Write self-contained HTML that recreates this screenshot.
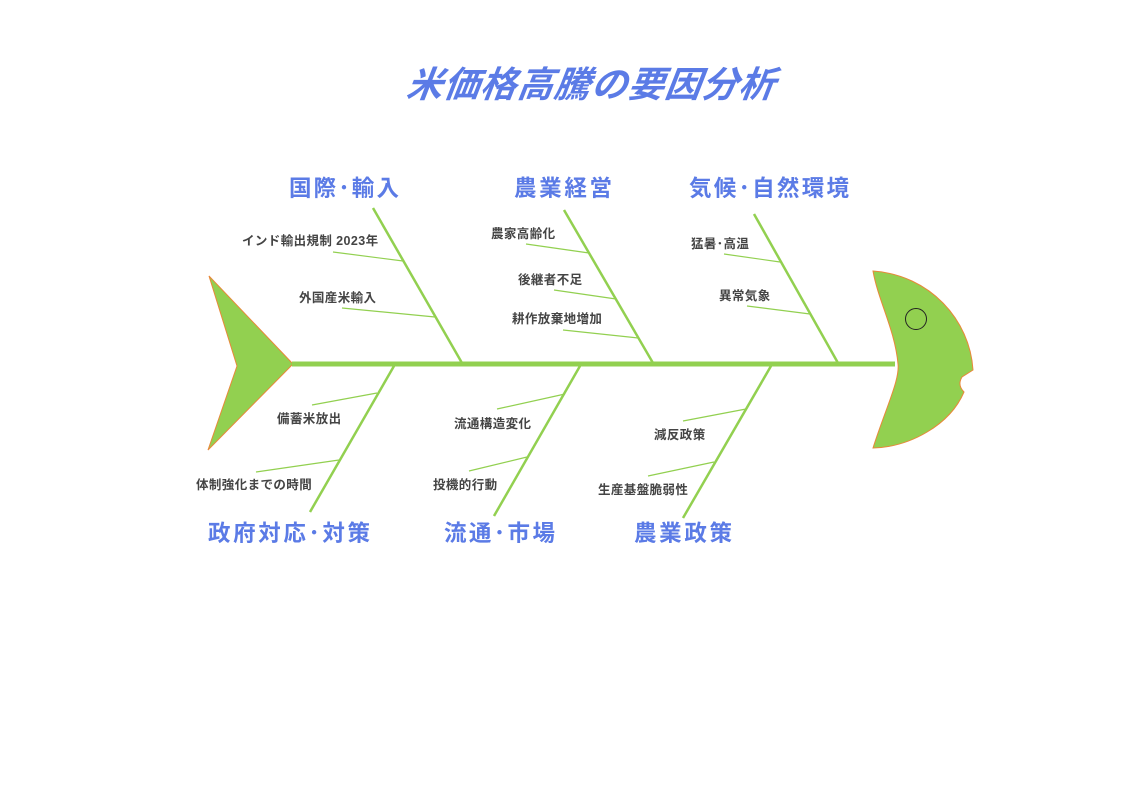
<!DOCTYPE html>
<html><head><meta charset="utf-8"><style>
html,body{margin:0;padding:0;background:#fff;}
svg{display:block;}
text{font-family:"Liberation Sans","Noto Sans CJK JP",sans-serif;}
.c{font-size:22.5px;font-weight:bold;fill:#5b7be6;}
.s{font-size:12.5px;font-weight:bold;fill:#444;letter-spacing:0.4px;}
.b{stroke:#92d050;stroke-width:2.5;fill:none;}
.t{stroke:#92d050;stroke-width:1.2;fill:none;}
</style></head><body>
<svg width="1123" height="794" viewBox="0 0 1123 794" xmlns="http://www.w3.org/2000/svg">
<text x="590" y="97" text-anchor="middle" font-size="36" font-weight="bold" font-style="italic" fill="#5b7be6" transform="skewX(-8) translate(13,0)" textLength="368">米価格高騰の要因分析</text>
<path d="M209,276 L293,364 L208,450 L237,366 Z" fill="#92d050" stroke="#e8883a" stroke-width="1"/>
<line x1="292" y1="364" x2="895" y2="364" stroke="#92d050" stroke-width="5"/>
<path d="M873,271 C930,275 970,320 973,370 L962,377 Q957,385 964,392 C950,425 910,447 873,448 C885,410 900,380 898,364 C895,330 878,300 873,271 Z" fill="#92d050" stroke="#e8883a" stroke-width="1"/>
<circle cx="916" cy="319" r="10.5" fill="none" stroke="#222" stroke-width="1"/>
<line class="b" x1="373" y1="208" x2="462" y2="363"/>
<line class="t" x1="333" y1="252" x2="403" y2="261"/>
<line class="t" x1="342" y1="308" x2="435" y2="317"/>
<line class="b" x1="564" y1="210" x2="653" y2="363"/>
<line class="t" x1="526" y1="244" x2="589" y2="253"/>
<line class="t" x1="554" y1="290" x2="616" y2="299"/>
<line class="t" x1="563" y1="330" x2="638" y2="338"/>
<line class="b" x1="754" y1="214" x2="838" y2="363"/>
<line class="t" x1="724" y1="254" x2="780" y2="262"/>
<line class="t" x1="747" y1="306" x2="810" y2="314"/>
<line class="b" x1="394" y1="366" x2="310" y2="512"/>
<line class="t" x1="312" y1="405" x2="377" y2="393"/>
<line class="t" x1="256" y1="472" x2="339" y2="460"/>
<line class="b" x1="580" y1="366" x2="494" y2="516"/>
<line class="t" x1="497" y1="409" x2="565" y2="394"/>
<line class="t" x1="469" y1="471" x2="527" y2="457"/>
<line class="b" x1="771" y1="366" x2="683" y2="518"/>
<line class="t" x1="683" y1="421" x2="746" y2="409"/>
<line class="t" x1="648" y1="476" x2="714" y2="462"/>
<text class="c" x="289" y="196" textLength="110">国際･輸入</text>
<text class="c" x="514" y="196" textLength="98">農業経営</text>
<text class="c" x="689" y="196" textLength="160">気候･自然環境</text>
<text class="c" x="208" y="541" textLength="162">政府対応･対策</text>
<text class="c" x="444" y="541" textLength="111">流通･市場</text>
<text class="c" x="634" y="541" textLength="98">農業政策</text>
<text class="s" x="242" y="245">インド輸出規制 2023年</text>
<text class="s" x="299" y="302">外国産米輸入</text>
<text class="s" x="491" y="238">農家高齢化</text>
<text class="s" x="518" y="284">後継者不足</text>
<text class="s" x="512" y="323">耕作放棄地増加</text>
<text class="s" x="691" y="248">猛暑･高温</text>
<text class="s" x="719" y="300">異常気象</text>
<text class="s" x="277" y="423">備蓄米放出</text>
<text class="s" x="196" y="489">体制強化までの時間</text>
<text class="s" x="454" y="428">流通構造変化</text>
<text class="s" x="433" y="489">投機的行動</text>
<text class="s" x="654" y="439">減反政策</text>
<text class="s" x="598" y="494">生産基盤脆弱性</text>
</svg>
</body></html>
